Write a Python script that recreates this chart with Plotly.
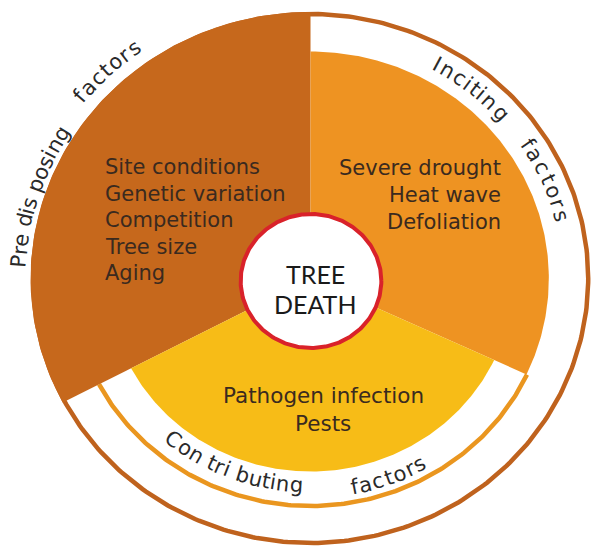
import numpy as np
import plotly.graph_objects as go

# ---------------- data ----------------
categories = ["Predisposing", "Inciting", "Contributing"]
sector_start_deg = [90.0, -25.0, 207.7]     # angles, counter-clockwise from east
sector_end_deg = [207.7, 90.0, 335.0]
sector_radius = [266.5, 227.0, 193.0]
sector_colors = ["#C6681C", "#EE9322", "#F7BC17"]

factor_items = [
    ["Site conditions", "Genetic variation", "Competition", "Tree size", "Aging"],
    ["Severe drought", "Heat wave", "Defoliation"],
    ["Pathogen infection", "Pests"],
]
ring_words = [["Pre dis posing", "factors"], ["Inciting", "factors"], ["Con tri buting", "factors"]]
center_label = ["TREE", "DEATH"]

# ---------------- layout helpers ----------------
W, H = 592, 547
CX, CY = 310.5, 278.5
SX = 1.05          # horizontal stretch of the drawing
OUTER_R = 264.5
THIN_R = 227.5
CENTER_R = 67.0
TEXT_COLOR = "#3a2a1f"
FONT = "DejaVu Sans"

# arc placement of the curved words: (start angle, end angle, radius)
ring_word_arcs = [
    [(177.8, 147.3, 278.0), (141.1, 124.9, 285.0)],
    [(61.5, 40.6, 246.0), (34.1, 13.2, 247.0)],
    [(229.1, 268.1, 207.0), (280.4, 300.7, 213.0)],
]

CHAR_W = {"P": .603, "r": .411, "e": .615, " ": .318, "d": .635, "i": .278, "s": .521,
          "p": .635, "o": .612, "n": .634, "g": .635, "f": .352, "a": .613, "c": .55,
          "t": .392, "I": .295, "C": .698, "b": .635, "u": .634}


def pt(t_deg, r):
    t = np.radians(t_deg)
    return CX + SX * r * np.cos(t), CY - r * np.sin(t)


def arc(t0, t1, r, n=200):
    ts = np.linspace(t0, t1, n)
    xs, ys = pt(ts, r)
    return list(xs), list(ys)


fig = go.Figure()

# outer ring
xs, ys = arc(0, 360, OUTER_R, 400)
fig.add_trace(go.Scatter(x=xs, y=ys, mode="lines", line=dict(color="#BF621D", width=4.5),
                         hoverinfo="skip", showlegend=False))

# thin ring around contributing sector
xs, ys = arc(sector_start_deg[2], sector_end_deg[2], THIN_R)
fig.add_trace(go.Scatter(x=xs, y=ys, mode="lines", line=dict(color="#EA961F", width=4.5),
                         hoverinfo="skip", showlegend=False))

# sectors
for name, a0, a1, r, col in zip(categories, sector_start_deg, sector_end_deg, sector_radius, sector_colors):
    xs, ys = arc(a0, a1, r)
    xs = [CX] + xs + [CX]
    ys = [CY] + ys + [CY]
    fig.add_trace(go.Scatter(x=xs, y=ys, mode="lines", fill="toself", fillcolor=col,
                             line=dict(width=0, color=col), name=name,
                             hoverinfo="name", showlegend=False))

# central circle
ccx, ccy = 311.0, 281.0
tt = np.radians(np.linspace(0, 360, 300))
fig.add_trace(go.Scatter(x=list(ccx + SX * CENTER_R * np.cos(tt)), y=list(ccy - CENTER_R * np.sin(tt)),
                         mode="lines", fill="toself", fillcolor="white",
                         line=dict(color="#D9222A", width=4), hoverinfo="skip", showlegend=False))

ann = []

# factor lists
for i, item in enumerate(factor_items[0]):
    ann.append(dict(x=103, y=167 + 26.5 * i, text=item, xanchor="left", yanchor="middle",
                    font=dict(family=FONT, size=21, color=TEXT_COLOR)))
for i, item in enumerate(factor_items[1]):
    ann.append(dict(x=503, y=168 + 27 * i, text=item, xanchor="right", yanchor="middle",
                    font=dict(family=FONT, size=21, color=TEXT_COLOR)))
for i, item in enumerate(factor_items[2]):
    ann.append(dict(x=323, y=395 + 28 * i, text=item, xanchor="center", yanchor="middle",
                    font=dict(family=FONT, size=21.5, color=TEXT_COLOR)))

# centre label
for i, item in enumerate(center_label):
    ann.append(dict(x=315, y=274 + 30 * i, text=item, xanchor="center", yanchor="middle",
                    font=dict(family="Lato", size=25, color="#1a1a1a")))

# curved words
for words, arcs in zip(ring_words, ring_word_arcs):
    for word, (t0, t1, r) in zip(words, arcs):
        widths = [CHAR_W.get(c, 0.6) for c in word]
        total = sum(widths)
        cum = 0.0
        for c, w in zip(word, widths):
            frac = (cum + w / 2) / total
            cum += w
            if c == " ":
                continue
            t = t0 + frac * (t1 - t0)
            x, y = pt(t, r)
            tr = np.radians(t)
            if t1 < t0:   # reading clockwise
                dx, dy = SX * np.sin(tr), np.cos(tr)
            else:         # reading counter-clockwise
                dx, dy = -SX * np.sin(tr), -np.cos(tr)
            ang = float(np.degrees(np.arctan2(dy, dx)))
            ann.append(dict(x=float(x), y=float(y), text=c, textangle=ang, xanchor="center",
                            yanchor="middle", font=dict(family=FONT, size=21, color="#2a2a2a")))

for a in ann:
    a.update(xref="x", yref="y", showarrow=False)

fig.update_layout(
    width=W, height=H, margin=dict(l=0, r=0, t=0, b=0),
    paper_bgcolor="white", plot_bgcolor="white",
    xaxis=dict(range=[0, W], visible=False, fixedrange=True),
    yaxis=dict(range=[H, 0], visible=False, fixedrange=True),
    annotations=ann, showlegend=False,
)

fig.write_html("out.html", config={"displayModeBar": False},
               post_script="document.body.style.margin='0';")
